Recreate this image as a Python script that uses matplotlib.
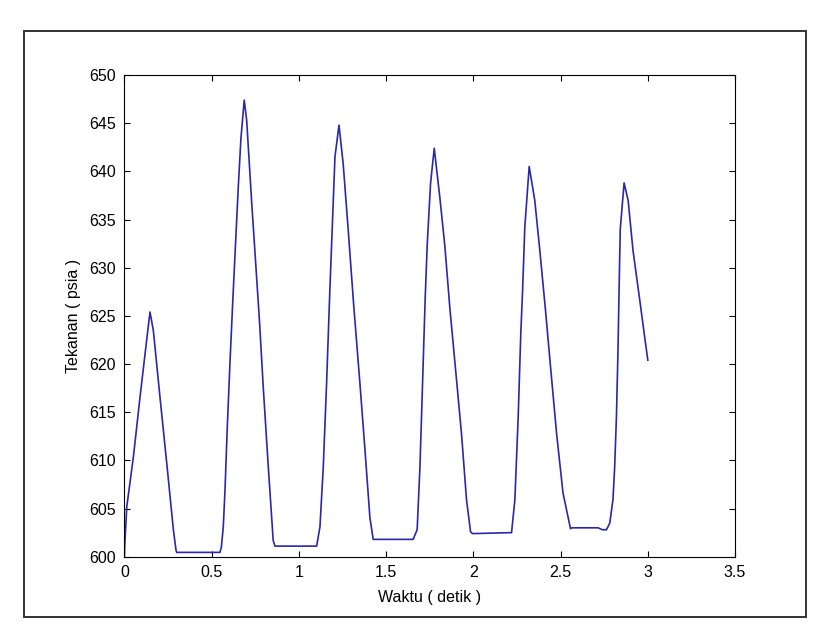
import matplotlib
matplotlib.use("Agg")
import matplotlib.pyplot as plt
from matplotlib.patches import Rectangle

# waktu (detik) dan tekanan (psia)
waktu = [0.000, 0.003, 0.014, 0.052, 0.090, 0.128, 0.147, 0.166, 0.204, 0.243,
         0.281, 0.296, 0.300, 0.548, 0.556, 0.567, 0.577, 0.590, 0.605, 0.621,
         0.638, 0.653, 0.668, 0.687, 0.701, 0.730, 0.758, 0.775, 0.796, 0.825,
         0.853, 0.863, 1.102, 1.121, 1.140, 1.159, 1.176, 1.193, 1.207, 1.230,
         1.254, 1.283, 1.314, 1.350, 1.379, 1.407, 1.426, 1.655, 1.678, 1.694,
         1.709, 1.724, 1.736, 1.755, 1.776, 1.808, 1.837, 1.865, 1.904, 1.932,
         1.961, 1.984, 1.995, 2.219, 2.238, 2.257, 2.272, 2.282, 2.295, 2.320,
         2.352, 2.381, 2.414, 2.438, 2.477, 2.514, 2.557, 2.565, 2.715, 2.740,
         2.763, 2.782, 2.800, 2.810, 2.820, 2.829, 2.835, 2.842, 2.864, 2.887,
         2.915, 2.954, 2.982, 3.000]
tekanan = [600.0, 601.5, 605.2, 610.4, 616.6, 622.5, 625.4, 623.5, 616.6, 609.7,
           602.8, 600.7, 600.45, 600.45, 601.0, 603.1, 607.0, 613.5, 620.0, 626.4,
           632.8, 638.4, 643.4, 647.4, 645.3, 636.7, 629.0, 624.3, 617.6, 609.3,
           601.7, 601.1, 601.1, 603.1, 609.3, 618.0, 626.8, 634.9, 641.5, 644.8,
           640.8, 633.9, 626.2, 618.0, 611.1, 604.1, 601.8, 601.8, 602.8, 609.3,
           618.0, 626.8, 632.5, 638.8, 642.4, 637.3, 632.2, 625.9, 618.3, 612.8,
           605.9, 602.6, 602.4, 602.5, 605.9, 614.5, 623.2, 627.5, 634.2, 640.5,
           637.0, 631.8, 625.5, 620.6, 612.8, 606.6, 602.9, 603.0, 603.0, 602.8,
           602.8, 603.5, 605.9, 609.3, 614.5, 621.4, 627.5, 634.0, 638.8, 637.0,
           631.8, 626.6, 622.8, 620.4]

x_ticks = [0, 0.5, 1, 1.5, 2, 2.5, 3, 3.5]
x_labels = ["0", "0.5", "1", "1.5", "2", "2.5", "3", "3.5"]
y_ticks = list(range(600, 651, 5))

plt.rcParams["font.family"] = ["Liberation Sans", "DejaVu Sans"]

fig = plt.figure(figsize=(8.29, 6.38), dpi=100)
fig.patches.append(Rectangle((24 / 829, 21 / 638), 782 / 829, 586 / 638,
                             transform=fig.transFigure, fill=False,
                             edgecolor="#333333", linewidth=1.4))

ax = fig.add_axes([0.15, 0.1274, 0.7367, 0.755])
ax.plot(waktu, tekanan, color="#2828a8", linewidth=1.2)
ax.set_xlim(0, 3.5)
ax.set_ylim(600, 650)
ax.set_xticks(x_ticks)
ax.set_xticklabels(x_labels)
ax.set_yticks(y_ticks)
ax.tick_params(direction="in", length=4, width=0.8, top=True, right=True,
               labelsize=11.5, pad=6, colors="black")
for s in ax.spines.values():
    s.set_linewidth(0.8)
ax.set_xlabel("Waktu ( detik )", fontsize=11.5, labelpad=7)
ax.set_ylabel("Tekanan ( psia )", fontsize=11.5, labelpad=6)

fig.savefig("out.png", dpi=100)
